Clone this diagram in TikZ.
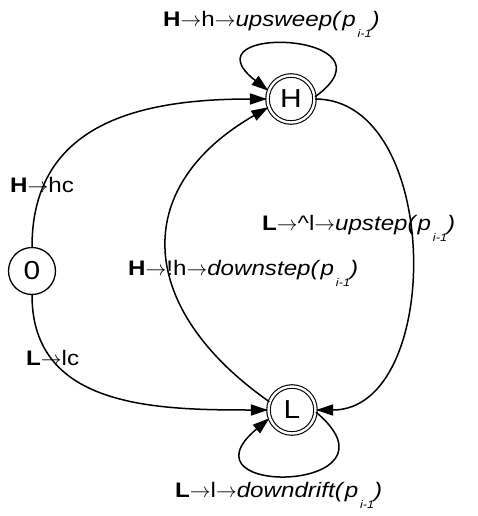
\documentclass[tikz,border=0pt]{standalone}
\usepackage{fontspec}
\setmainfont{Liberation Sans}
\newfontfamily\lblfont[FakeStretch=1.15]{Liberation Sans}
\usetikzlibrary{arrows.meta}
% subscript under the p, set low as in the source
\newcommand{\prevp}{\textit{p}\raisebox{-11pt}{\fontsize{11}{11}\selectfont\itshape\,i-1}}
\newcommand{\ra}{$\rightarrow$}
\begin{document}
\begin{tikzpicture}[
    state/.style={circle, draw, line width=1.3pt, minimum size=47pt, inner sep=0pt, font=\lblfont\fontsize{26}{26}\selectfont},
    accept/.style={state, double, double distance=2.4pt, line width=1.1pt, minimum size=47pt},
    arrow/.style={-{Triangle[length=17pt,width=11pt]}, line width=1.5pt},
    lbl/.style={anchor=base west, inner sep=0pt, font=\lblfont\fontsize{21}{24}\selectfont}
]
    \useasboundingbox (0,0) rectangle (478pt,-516pt);
    \begin{scope}[x=1pt,y=1pt]
    % States
    \node[state] (start) at (32,-271) {0};
    \node[accept] (high) at (291,-99) {H};
    \node[accept] (low) at (292,-410) {L};

    % Transitions
    \draw[arrow] (start.north) to[out=90,in=180,looseness=1.15] (high.west);
    \draw[arrow] (start.south) to[out=-90,in=180,looseness=1.1] (low.west);
    \draw[arrow] (high.east) to[out=0,in=0,looseness=1.05] (low.east);
    \draw[arrow] (low.160) to[out=145,in=210,looseness=1.4] (high.200);
    \draw[arrow] (high.5) to[out=36,in=142,looseness=6] (high.160);
    \draw[arrow] (low.-5) to[out=-40,in=-140,looseness=6.8] (low.200);

    % Labels
    \node[lbl] (lupsweep) at (163,-27) {\textbf{H}\ra h\ra\textit{upsweep(}\prevp\textit{)}};
    \node[lbl] (lhc) at (10,-192) {\textbf{H}\ra hc};
    \node[lbl] (llc) at (26,-365) {\textbf{L}\ra lc};
    \node[lbl] (lupstep) at (262,-230) {\textbf{L}\ra\^{}l\ra\textit{upstep(}\prevp\textit{)}};
    \node[lbl] (ldownstep) at (128,-275) {\textbf{H}\ra!h\ra\textit{downstep(}\prevp\textit{)}};
    \node[lbl] (ldowndrift) at (175,-497) {\textbf{L}\ra l\ra\textit{downdrift(}\prevp\textit{)}};
    \end{scope}
\end{tikzpicture}
\end{document}
